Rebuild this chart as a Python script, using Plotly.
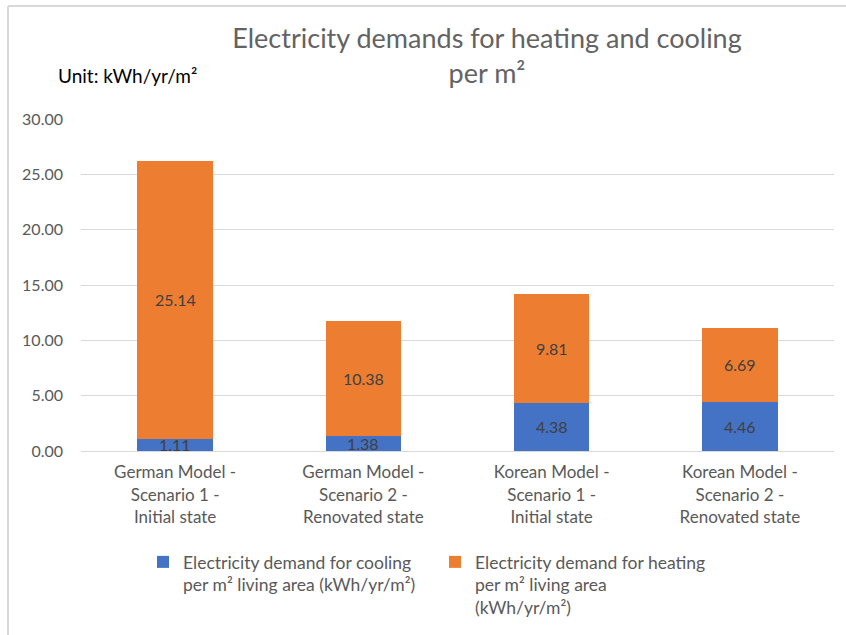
import plotly.graph_objects as go

# Scenario categories (x axis)
categories = [
    "German Model -<br>Scenario 1 -<br>Initial state",
    "German Model -<br>Scenario 2 -<br>Renovated state",
    "Korean Model -<br>Scenario 1 -<br>Initial state",
    "Korean Model -<br>Scenario 2 -<br>Renovated state",
]

# Electricity demand per m² living area (kWh/yr/m²)
cooling = [1.11, 1.38, 4.38, 4.46]
heating = [25.14, 10.38, 9.81, 6.69]

series_names = [
    "Electricity demand for cooling<br>per m² living area (kWh/yr/m²)",
    "Electricity demand for heating<br>per m² living area<br>(kWh/yr/m²)",
]
y_ticks = [0, 5, 10, 15, 20, 25, 30]

W, H = 846, 635
ML, MR, MT, MB = 81, 12, 119, 184
PW, PH = W - ML - MR, H - MT - MB

BLUE = "#4472C4"
ORANGE = "#ED7D31"
GRID = "#D9D9D9"
TEXT = "#595959"
FONT = "Lato"


def px_x(x):
    return (x - ML) / PW


def px_y(y):
    return (H - MB - y) / PH


fig = go.Figure()
fig.add_trace(go.Bar(x=categories, y=cooling, name=series_names[0],
                     marker=dict(color=BLUE, line=dict(width=0)), width=0.4))
fig.add_trace(go.Bar(x=categories, y=heating, name=series_names[1],
                     marker=dict(color=ORANGE, line=dict(width=0)), width=0.4))

# Value labels centred in each segment
annotations = []
for cat, c, h in zip(categories, cooling, heating):
    annotations.append(dict(x=cat, y=c / 2, text=f"{c:.2f}", showarrow=False,
                            font=dict(family=FONT, size=16, color="#404040")))
    annotations.append(dict(x=cat, y=c + h / 2, text=f"{h:.2f}", showarrow=False,
                            font=dict(family=FONT, size=16, color="#404040")))

annotations.append(dict(xref="paper", yref="paper", x=px_x(56), y=px_y(76),
                        xanchor="left", yanchor="middle", text="Unit: kWh/yr/m²",
                        showarrow=False, font=dict(family=FONT, size=19, color="#000000")))

# Chart-area frame along the top and left edges
shapes = [
    dict(type="line", xref="paper", yref="paper", x0=px_x(8), x1=px_x(W + 5),
         y0=px_y(6), y1=px_y(6), line=dict(color=GRID, width=2)),
    dict(type="line", xref="paper", yref="paper", x0=px_x(8), x1=px_x(8),
         y0=px_y(6), y1=px_y(H + 5), line=dict(color=GRID, width=2)),
]

fig.update_layout(
    width=W, height=H,
    margin=dict(l=ML, r=MR, t=MT, b=MB, autoexpand=False),
    barmode="stack",
    paper_bgcolor="white", plot_bgcolor="white",
    font=dict(family=FONT, size=15, color=TEXT),
    title=dict(text="Electricity demands for heating and cooling<br>per m²",
               x=487 / W, xanchor="center", xref="container",
               y=1 - 48 / H, yanchor="top", yref="container",
               font=dict(family=FONT, size=27, color="#636363")),
    xaxis=dict(showgrid=False, showline=True, linecolor=GRID, linewidth=1,
               ticks="", ticklabelstandoff=6,
               tickfont=dict(family=FONT, size=17, color=TEXT)),
    yaxis=dict(range=[0, 30], tickvals=y_ticks, tickformat=".2f",
               showgrid=True, gridcolor=GRID, gridwidth=1, zeroline=False,
               showline=False, ticks="", ticklabelstandoff=17,
               tickfont=dict(family=FONT, size=16, color=TEXT)),
    legend=dict(orientation="h", x=px_x(143), y=px_y(544), xanchor="left", yanchor="top",
                font=dict(family=FONT, size=17.5, color=TEXT),
                itemwidth=30, entrywidth=247, traceorder="normal", valign="top",
                itemclick=False),
    annotations=annotations,
    shapes=shapes,
)

fig.write_html("out.html")
